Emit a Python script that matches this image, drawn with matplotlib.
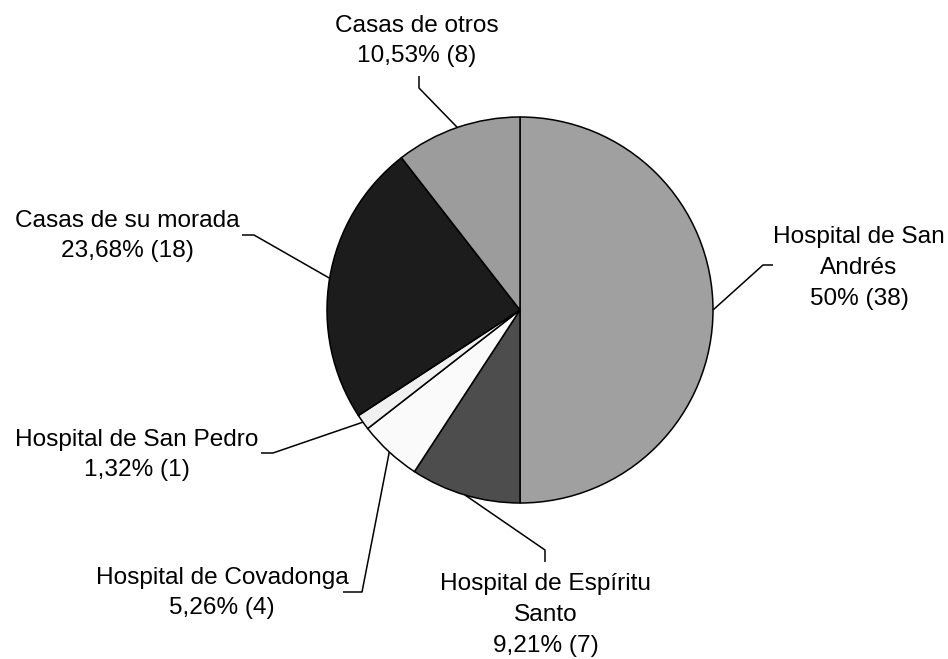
import numpy as np
import matplotlib
matplotlib.use("Agg")
import matplotlib.pyplot as plt

# data (counts, clockwise from 12 o'clock)
names = ["Hospital de San\nAndrés", "Hospital de Espíritu\nSanto",
         "Hospital de Covadonga", "Hospital de San Pedro",
         "Casas de su morada", "Casas de otros"]
counts = [38, 7, 4, 1, 18, 8]
colors = ["#a0a0a0", "#4d4d4d", "#fafafa", "#f0f0f0", "#1c1c1c", "#9c9c9c"]

# layout in pixels (origin top-left, like the picture)
W, H = 948, 659
center = (520, 310)
radius = 193
text_pos = [(859, 268), (546, 615), (222, 593), (137, 455), (127, 236), (417, 41)]
elbows = [
    [(763, 265), (773, 265)],
    [(545, 550), (545, 562)],
    [(362, 592), (343, 592)],
    [(273, 453), (261, 453)],
    [(254, 235), (242, 235)],
    [(419, 88), (419, 76)],
]


def px(x, y):
    return x, H - y


plt.rcParams['font.family'] = ['Liberation Sans', 'DejaVu Sans']

fig = plt.figure(figsize=(W / 100, H / 100), dpi=100)
ax = fig.add_axes([0, 0, 1, 1])

wedges, _ = ax.pie(counts, colors=colors, startangle=90, counterclock=False,
                   center=px(*center), radius=radius,
                   wedgeprops=dict(edgecolor="black", linewidth=1.1))
ax.set_xlim(0, W)
ax.set_ylim(0, H)
ax.set_aspect("equal")
ax.axis("off")

total = sum(counts)
for i, w in enumerate(wedges):
    pct = counts[i] / total * 100
    s = f"{pct:.2f}".rstrip("0").rstrip(".").replace(".", ",")
    label = f"{names[i]}\n{s}% ({counts[i]})"
    tx, ty = text_pos[i]
    ax.text(*px(tx, ty), label, ha="center", va="center", fontsize=17.6,
            linespacing=1.52, color="black")

    mid = np.deg2rad((w.theta1 + w.theta2) / 2)
    cx, cy = px(*center)
    ax_x = cx + radius * np.cos(mid)
    ax_y = cy + radius * np.sin(mid)
    xs = [ax_x] + [px(*p)[0] for p in elbows[i]]
    ys = [ax_y] + [px(*p)[1] for p in elbows[i]]
    ax.plot(xs, ys, color="black", linewidth=1.1, solid_capstyle="butt")

fig.savefig("out.png", dpi=100, facecolor="white")
